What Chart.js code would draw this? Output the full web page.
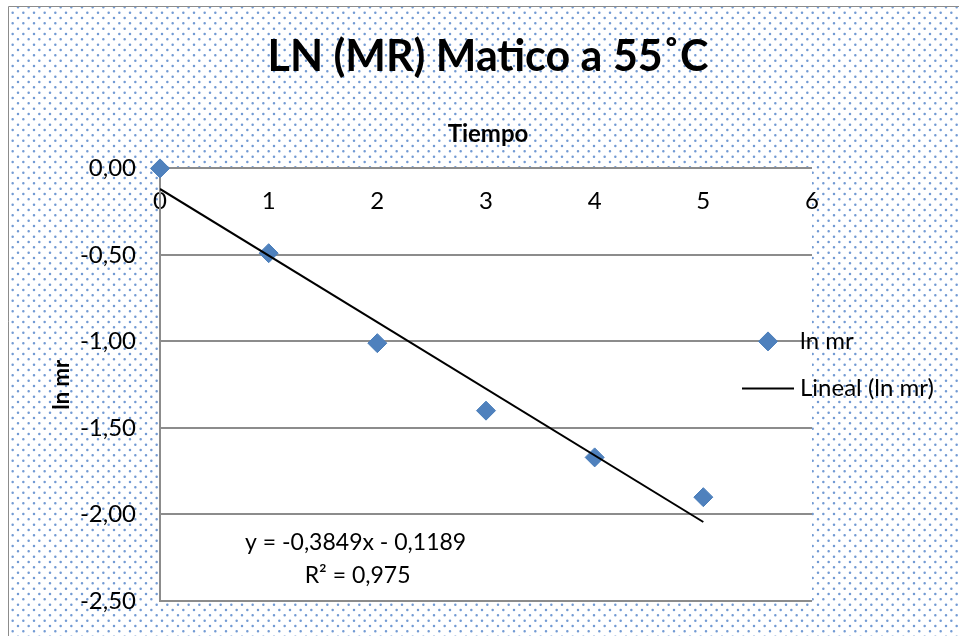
<!DOCTYPE html>
<html>
<head>
<meta charset="utf-8">
<script src="https://cdn.jsdelivr.net/npm/chart.js@4/dist/chart.umd.min.js"></script>
<style>
html, body { margin: 0; padding: 0; background: #fff; }
</style>
</head>
<body>
<canvas id="graficoMatico" width="959" height="636"></canvas>
<script>
const tiempo = [0, 1, 2, 3, 4, 5];
const lnMr = [0.00, -0.49, -1.01, -1.40, -1.67, -1.90];
const tendenciaX = [0, 5];
const tendenciaY = [-0.1189, -2.0434];
const ticksX = [0, 1, 2, 3, 4, 5, 6];
const ticksY = [0, -0.5, -1, -1.5, -2, -2.5];
const ecuacion = ['y = -0,3849x - 0,1189', 'R² = 0,975'];

const fuente = 'Lato, "Open Sans", sans-serif';
const azul = '#4f81bd';
const gris = '#8c8c8c';

// fondo punteado tipo Excel
function creaPatron(ctx) {
    const tile = document.createElement('canvas');
    tile.width = 32;
    tile.height = 32;
    const t = tile.getContext('2d');
    t.fillStyle = 'rgba(79, 129, 200, 0.8)';
    const paso = 32 / 3;
    for (let i = 0; i < 3; i++) {
        for (let j = 0; j < 3; j++) {
            t.beginPath();
            t.arc(i * paso + 2, j * paso + 2, 1.25, 0, Math.PI * 2);
            t.arc(i * paso + 2 + paso / 2, j * paso + 2 + paso / 2, 1.25, 0, Math.PI * 2);
            t.fill();
        }
    }
    return ctx.createPattern(tile, 'repeat');
}

const fondo = {
    id: 'fondo',
    beforeDraw(chart) {
        const {ctx, chartArea, width, height} = chart;
        ctx.save();
        ctx.fillStyle = '#fff';
        ctx.fillRect(0, 0, width, height);
        ctx.fillStyle = creaPatron(ctx);
        ctx.fillRect(9, 7, width - 9, height - 7);
        ctx.strokeStyle = gris;
        ctx.lineWidth = 1;
        ctx.beginPath();
        ctx.moveTo(8.5, height);
        ctx.lineTo(8.5, 6.5);
        ctx.lineTo(width, 6.5);
        ctx.stroke();
        ctx.fillStyle = '#fff';
        ctx.fillRect(chartArea.left, chartArea.top, chartArea.right - chartArea.left, chartArea.bottom - chartArea.top);
        ctx.restore();
    }
};

const textos = {
    id: 'textos',
    afterDraw(chart) {
        const {ctx, chartArea, scales, data} = chart;
        ctx.save();
        ctx.fillStyle = '#000';
        ctx.textBaseline = 'middle';

        // ecuacion de la tendencia
        ctx.font = '23px ' + fuente;
        ctx.textAlign = 'center';
        const ex = scales.x.getPixelForValue(1.8);
        const ey = scales.y.getPixelForValue(-2.165);
        ctx.fillText(ecuacion[0], ex, ey);
        ctx.fillText(ecuacion[1], ex + 2, ey + 33);

        // leyenda
        ctx.font = '24px ' + fuente;
        ctx.textAlign = 'left';
        const xt = chartArea.right - 12;
        const y1 = chartArea.top + 173;
        const y2 = chartArea.top + 220;
        const serie = data.datasets[0];
        const linea = data.datasets[1];
        ctx.fillStyle = serie.backgroundColor;
        ctx.strokeStyle = serie.borderColor;
        ctx.lineWidth = 1;
        Chart.helpers.drawPoint(ctx, {pointStyle: 'rectRot', radius: serie.pointRadius, borderWidth: 1}, xt - 32, y1);
        ctx.strokeStyle = linea.borderColor;
        ctx.lineWidth = linea.borderWidth;
        ctx.beginPath();
        ctx.moveTo(xt - 58, y2);
        ctx.lineTo(xt - 6, y2);
        ctx.stroke();
        ctx.fillStyle = '#000';
        ctx.fillText(serie.label, xt, y1);
        ctx.fillText(linea.label, xt, y2);
        ctx.restore();
    }
};

const graficoMatico = new Chart(document.getElementById('graficoMatico'), {
    type: 'scatter',
    data: {
        datasets: [{
            label: 'ln mr',
            data: tiempo.map((t, i) => ({x: t, y: lnMr[i]})),
            pointStyle: 'rectRot',
            pointRadius: 9.5,
            pointHoverRadius: 9.5,
            backgroundColor: azul,
            borderColor: '#4a7ebb',
            borderWidth: 1,
            clip: false,
            order: 1
        }, {
            label: 'Lineal (ln mr)',
            data: tendenciaX.map((t, i) => ({x: t, y: tendenciaY[i]})),
            showLine: true,
            borderColor: '#000',
            borderWidth: 2,
            pointRadius: 0,
            order: 0
        }]
    },
    options: {
        responsive: false,
        animation: false,
        devicePixelRatio: 1,
        layout: {
            padding: {left: 17, right: 0, top: 0, bottom: 35}
        },
        plugins: {
            legend: {display: false},
            tooltip: {enabled: false},
            title: {
                display: true,
                text: 'LN (MR) Matico a 55˚C',
                color: '#000',
                font: {family: fuente, size: 43, weight: 'bold'},
                padding: {top: 31, bottom: 37}
            },
            subtitle: {
                display: true,
                text: 'Tiempo',
                color: '#000',
                font: {family: fuente, size: 24, weight: 'bold'},
                padding: {top: 0, bottom: 20}
            }
        },
        scales: {
            x: {
                type: 'linear',
                min: 0,
                max: 6,
                position: {y: 0},
                afterBuildTicks: s => { s.ticks = ticksX.map(v => ({value: v})); },
                ticks: {
                    color: '#000',
                    font: {family: fuente, size: 24},
                    padding: 18
                },
                grid: {display: false, drawTicks: false},
                border: {display: false}
            },
            y: {
                min: -2.5,
                max: 0,
                afterBuildTicks: s => { s.ticks = ticksY.map(v => ({value: v})); },
                afterFit: s => {
                    s.width = 143;
                    s.paddingTop = 0;
                    s.paddingBottom = 0;
                },
                ticks: {
                    color: '#000',
                    font: {family: fuente, size: 24},
                    padding: 24,
                    callback: v => v.toFixed(2).replace('.', ',')
                },
                grid: {color: gris, lineWidth: 2, drawTicks: false},
                border: {color: gris, width: 2},
                title: {
                    display: true,
                    text: 'ln mr',
                    color: '#000',
                    font: {family: fuente, size: 22, weight: 'bold'},
                    padding: {top: 32}
                }
            },
            // espacio a la derecha donde va la leyenda
            yDer: {
                position: 'right',
                min: -2.5,
                max: 0,
                afterFit: s => { s.width = 147; },
                ticks: {display: false},
                grid: {display: false, drawTicks: false},
                border: {display: false}
            }
        }
    },
    plugins: [fondo, textos]
});
</script>
</body>
</html>
